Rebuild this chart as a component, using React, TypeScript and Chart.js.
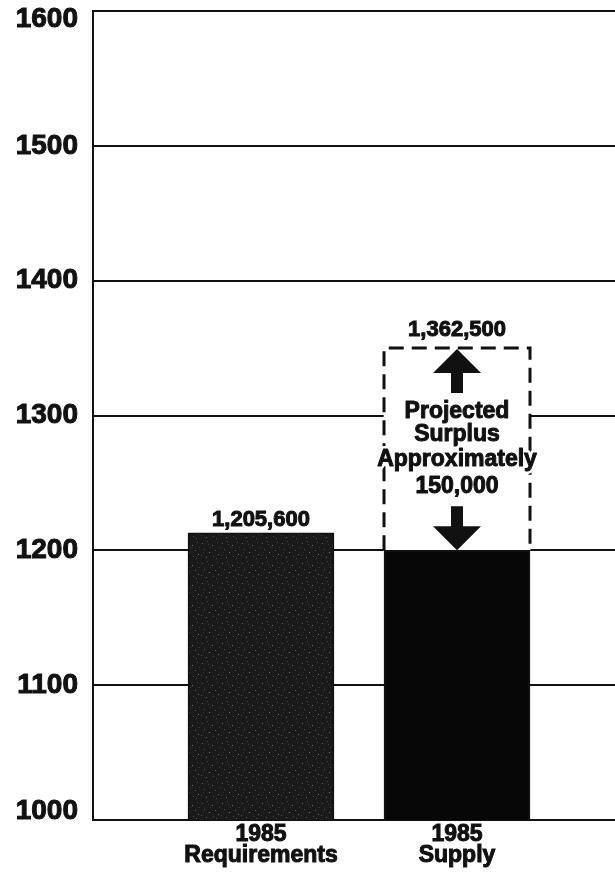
import React, { useEffect, useRef } from "react";
import { Chart, registerables } from "chart.js";

Chart.register(...registerables);

// ---- data ----
const categoryLines: string[][] = [
  ["1985", "Requirements"],
  ["1985", "Supply"],
];
const baseValues: number[] = [1213, 1200]; // thousands, as drawn
const surplusValues: (number | null)[] = [null, 150];
const valueLabels: string[] = ["1,205,600", "1,362,500"];
const surplusText: string[] = ["Projected", "Surplus", "Approximately", "150,000"];
const yTicks: number[] = [1000, 1100, 1200, 1300, 1400, 1500, 1600];

const FONT = "'Liberation Sans', Arial, Helvetica, sans-serif";

// speckled dark fill for the "Requirements" bar (fixed texture, not data)
function makeSpeckle(): CanvasPattern | string {
  const c = document.createElement("canvas");
  c.width = 20;
  c.height = 20;
  const g = c.getContext("2d");
  if (!g) return "#262626";
  g.fillStyle = "#1a1a1a";
  g.fillRect(0, 0, 20, 20);
  const specks: [number, number, string][] = [
    [2, 3, "#5a5a5a"], [7, 1, "#444"], [12, 5, "#6a6a6a"], [17, 2, "#3e3e3e"],
    [4, 9, "#4a4a4a"], [9, 12, "#707070"], [15, 10, "#505050"], [1, 15, "#3c3c3c"],
    [6, 17, "#5e5e5e"], [13, 16, "#454545"], [18, 14, "#666"], [10, 7, "#3a3a3a"],
    [3, 12, "#333"], [16, 18, "#4e4e4e"], [8, 4, "#3a3a3a"], [19, 7, "#404040"],
  ];
  specks.forEach(([x, y, col]) => {
    g.fillStyle = col;
    g.fillRect(x, y, 1, 1);
  });
  return g.createPattern(c, "repeat") || "#262626";
}

const annotationPlugin = {
  id: "surplusAnnotations",
  afterDatasetsDraw(chart: any) {
    const ctx: CanvasRenderingContext2D = chart.ctx;
    const baseMeta = chart.getDatasetMeta(0);
    const surMeta = chart.getDatasetMeta(1);
    const reqBar = baseMeta.data[0];
    const box = surMeta.data[surplusValues.findIndex((v) => v !== null)];
    if (!reqBar || !box) return;
    ctx.save();

    // dashed surplus box
    const bx = box.x - box.width / 2;
    const top = box.y;
    const bottom = box.base;
    ctx.strokeStyle = "#111";
    ctx.lineWidth = 3;
    ctx.setLineDash([15, 8]);
    ctx.beginPath();
    ctx.moveTo(bx, bottom);
    ctx.lineTo(bx, top);
    ctx.lineTo(bx + box.width, top);
    ctx.lineTo(bx + box.width, bottom);
    ctx.stroke();
    ctx.setLineDash([]);

    const heavyText = (t: string, x: number, y: number, halo: boolean) => {
      if (halo) {
        ctx.strokeStyle = "#fff";
        ctx.lineWidth = 6;
        ctx.lineJoin = "round";
        ctx.strokeText(t, x, y);
      }
      ctx.strokeStyle = "#111";
      ctx.lineWidth = 1;
      ctx.strokeText(t, x, y);
      ctx.fillStyle = "#111";
      ctx.fillText(t, x, y);
    };

    // value labels
    ctx.textAlign = "center";
    ctx.textBaseline = "alphabetic";
    ctx.font = `bold 22px ${FONT}`;
    heavyText(valueLabels[0], reqBar.x, reqBar.y - 7, false);
    heavyText(valueLabels[1], box.x, top - 12, false);

    // arrows
    const cx = box.x;
    ctx.fillStyle = "#111";
    const drawArrow = (tipY: number, dir: number) => {
      const headH = 24;
      const headW = 24;
      const shaftW = 6;
      const shaftLen = 20;
      const headBase = tipY - dir * headH;
      const shaftEnd = headBase - dir * shaftLen;
      ctx.beginPath();
      ctx.moveTo(cx, tipY);
      ctx.lineTo(cx + headW, headBase);
      ctx.lineTo(cx + shaftW, headBase);
      ctx.lineTo(cx + shaftW, shaftEnd);
      ctx.lineTo(cx - shaftW, shaftEnd);
      ctx.lineTo(cx - shaftW, headBase);
      ctx.lineTo(cx - headW, headBase);
      ctx.closePath();
      ctx.fill();
    };
    drawArrow(top + 1, -1);
    drawArrow(bottom, 1);

    // surplus text
    ctx.font = `bold 23px ${FONT}`;
    const offsets = [70, 93, 118, 145];
    surplusText.forEach((t, i) => heavyText(t, cx, top + offsets[i], true));

    ctx.restore();
  },
};

export default function App() {
  const ref = useRef<HTMLCanvasElement | null>(null);

  useEffect(() => {
    if (!ref.current) return;
    const speckle = makeSpeckle();
    const yMin = yTicks[0];
    const yMax = yTicks[yTicks.length - 1];
    const chart = new Chart(ref.current, {
      type: "bar",
      data: {
        datasets: [
          {
            label: "1985",
            data: baseValues.map((v, i) => ({ x: i + 1, y: v })),
            backgroundColor: [speckle, "#070707"],
            borderColor: "#111",
            borderWidth: 2,
            barThickness: 146,
          },
          {
            label: "Surplus",
            data: surplusValues.map((v, i) => ({ x: i + 1, y: v })) as any,
            backgroundColor: "#ffffff",
            borderWidth: 0,
            barThickness: 146,
          },
        ],
      },
      options: {
        animation: false,
        responsive: false,
        maintainAspectRatio: false,
        layout: { padding: { left: 0, right: 0, top: 11, bottom: 0 } },
        plugins: {
          legend: { display: false },
          tooltip: { enabled: false },
          title: { display: false },
        },
        scales: {
          x: {
            type: "linear",
            stacked: true,
            offset: false,
            bounds: "data",
            min: 0.143,
            max: 2.806,
            grid: { display: false, drawTicks: false, offset: false },
            border: { display: true, color: "#111", width: 2 },
            afterBuildTicks: (scale: any) => {
              scale.ticks = categoryLines.map((_, i) => ({ value: i + 1 }));
            },
            afterFit: (scale: any) => {
              scale.height = 55;
              scale.paddingLeft = 0;
              scale.paddingRight = 0;
            },
            ticks: {
              autoSkip: false,
              maxRotation: 0,
              padding: 4,
              color: "#111",
              textStrokeColor: "#111",
              textStrokeWidth: 1,
              font: { family: FONT, size: 23, weight: "bold", lineHeight: 0.92 },
              callback: (v: any) => categoryLines[Number(v) - 1] ?? "",
            },
          },
          y: {
            stacked: true,
            min: yMin,
            max: yMax,
            afterBuildTicks: (scale: any) => {
              scale.ticks = yTicks.map((v) => ({ value: v }));
            },
            afterFit: (scale: any) => {
              scale.width = 93;
              scale.paddingTop = 0;
              scale.paddingBottom = 0;
            },
            grid: { color: "#111", lineWidth: 2, drawTicks: false },
            border: { display: true, color: "#111", width: 2 },
            ticks: {
              padding: 15,
              color: "#111",
              textStrokeColor: "#111",
              textStrokeWidth: 1,
              font: { family: FONT, size: 28, weight: "bold", lineHeight: 0.62 },
              callback: (v: any) => {
                const s = String(v);
                if (Number(v) === yMax) return ["", s];
                if (Number(v) === yMin) return [s, ""];
                return s;
              },
            },
          },
        },
      } as any,
      plugins: [annotationPlugin],
    });
    return () => chart.destroy();
  }, []);

  return (
    <div style={{ position: "absolute", left: 0, top: 0, width: 615, height: 875, background: "#fff" }}>
      <canvas ref={ref} width={615} height={875} style={{ display: "block" }} />
    </div>
  );
}
